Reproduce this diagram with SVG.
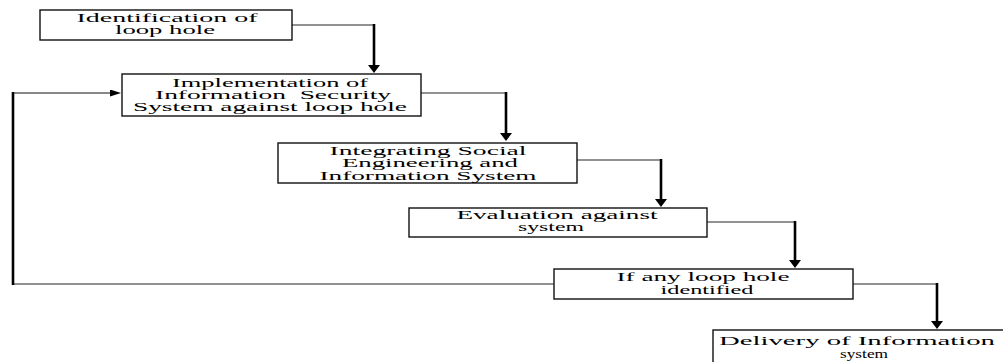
<svg xmlns="http://www.w3.org/2000/svg" width="1003" height="362" viewBox="0 0 1003 362">
<style>
.box{fill:#fff;stroke:#111;stroke-width:1.4}
.t{font-family:"Liberation Serif","Times New Roman",serif;font-size:13.5px;fill:#000;text-anchor:middle}
.h{fill:none;stroke:#6e6e6e;stroke-width:1.3}
.v{fill:none;stroke:#000;stroke-width:2.6}
.fb{fill:none;stroke:#111;stroke-width:1.2}
</style>
<defs>
<marker id="ad" markerUnits="userSpaceOnUse" markerWidth="9" markerHeight="12" refX="1" refY="6" orient="auto"><path d="M0,0 L8,6 L0,12 z" fill="#000"/></marker>
<marker id="ar" markerUnits="userSpaceOnUse" markerWidth="11" markerHeight="7" refX="1" refY="3.5" orient="auto"><path d="M0,0 L11,3.5 L0,7 z" fill="#000"/></marker>
</defs>
<g id="connectors">
<line class="h" x1="288" y1="25" x2="374" y2="25"/>
<line class="v" x1="374" y1="24" x2="374" y2="66" marker-end="url(#ad)"/>
<line class="h" x1="418" y1="93" x2="506" y2="93"/>
<line class="v" x1="506" y1="92" x2="506" y2="134" marker-end="url(#ad)"/>
<line class="h" x1="574" y1="160" x2="661" y2="160"/>
<line class="v" x1="661" y1="159" x2="661" y2="200" marker-end="url(#ad)"/>
<line class="h" x1="704" y1="222" x2="795" y2="222"/>
<line class="v" x1="795" y1="221" x2="795" y2="261" marker-end="url(#ad)"/>
<line class="h" x1="850" y1="284" x2="937" y2="284"/>
<line class="v" x1="937" y1="283" x2="937" y2="322" marker-end="url(#ad)"/>
<line class="h" x1="556" y1="284" x2="12" y2="284"/>
<line class="v" x1="13" y1="285" x2="13" y2="92"/>
<line class="fb" x1="12" y1="93" x2="111" y2="93" marker-end="url(#ar)"/>
</g>
<g id="n1">
<rect class="box" x="40" y="10" width="252" height="30"/>
<text class="t" x="167" y="22" textLength="181" lengthAdjust="spacingAndGlyphs">Identification of</text>
<text class="t" x="165" y="34" textLength="100" lengthAdjust="spacingAndGlyphs">loop hole</text>
</g>
<g id="n2">
<rect class="box" x="122" y="74" width="299" height="42"/>
<text class="t" x="270" y="87" textLength="196" lengthAdjust="spacingAndGlyphs">Implementation of</text>
<text class="t" x="273" y="99" textLength="236" lengthAdjust="spacingAndGlyphs" xml:space="preserve">Information  Security</text>
<text class="t" x="270" y="111" textLength="274" lengthAdjust="spacingAndGlyphs">System against loop hole</text>
</g>
<g id="n3">
<rect class="box" x="278" y="143" width="299" height="40"/>
<text class="t" x="428" y="155" textLength="197" lengthAdjust="spacingAndGlyphs">Integrating Social</text>
<text class="t" x="430" y="167" textLength="176" lengthAdjust="spacingAndGlyphs">Engineering and</text>
<text class="t" x="428" y="180" textLength="217" lengthAdjust="spacingAndGlyphs">Information System</text>
</g>
<g id="n4">
<rect class="box" x="409" y="208" width="298" height="29"/>
<text class="t" x="557" y="219" textLength="201" lengthAdjust="spacingAndGlyphs">Evaluation against</text>
<text class="t" x="551" y="231" textLength="66" lengthAdjust="spacingAndGlyphs">system</text>
</g>
<g id="n5">
<rect class="box" x="554" y="269" width="299" height="30"/>
<text class="t" x="703" y="281" textLength="173" lengthAdjust="spacingAndGlyphs">If any loop hole</text>
<text class="t" x="707" y="294" textLength="93" lengthAdjust="spacingAndGlyphs">identified</text>
</g>
<g id="n6">
<rect class="box" x="713" y="330" width="300" height="34"/>
<text class="t" x="857" y="345" textLength="276" lengthAdjust="spacingAndGlyphs">Delivery of Information</text>
<text class="t" x="864" y="358" textLength="48" lengthAdjust="spacingAndGlyphs">system</text>
</g>
</svg>
